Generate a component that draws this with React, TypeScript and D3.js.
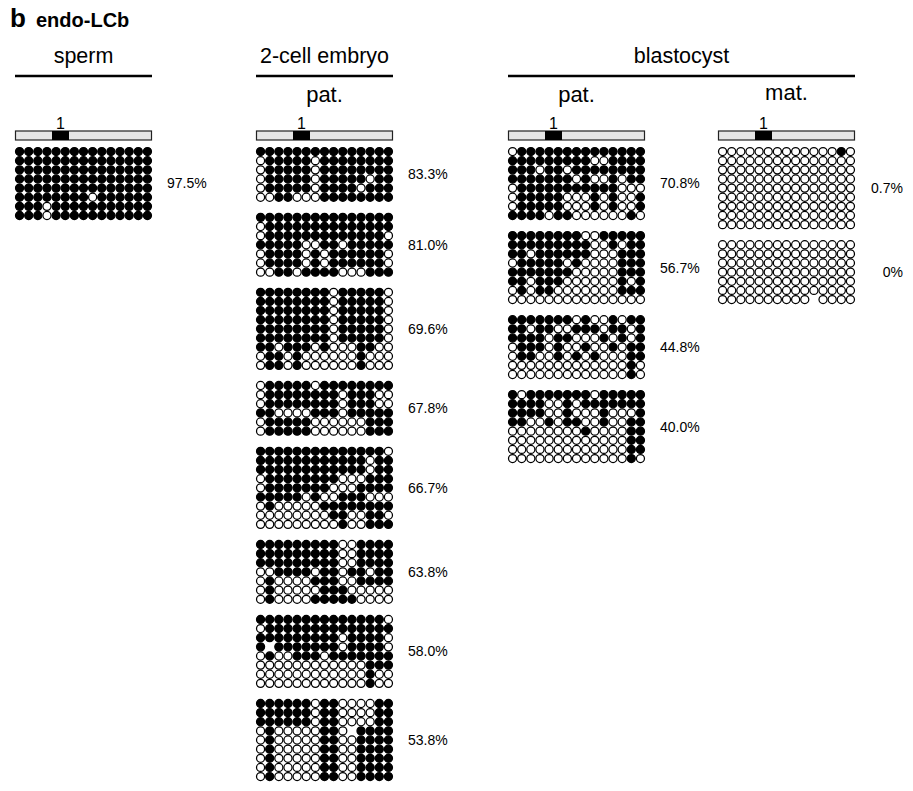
import React from 'react';
import * as d3 from 'd3';

// '1' = methylated (filled), '0' = unmethylated (open), '-' = no data
const spermBlocks: string[][] = [
  [
    '111111111111111',
    '111111111111111',
    '111111111111111',
    '111111111111111',
    '111111111111111',
    '111111110111111',
    '111011111111111',
    '111011111111111',
  ],
];
const spermLabels = ['97.5%'];

const twoCellPatBlocks: string[][] = [
  [
    '111111111111111',
    '011111011111111',
    '011111011111111',
    '011111011111011',
    '011111011110111',
    '001100011111111',
  ],
  [
    '111111111111111',
    '011111111111111',
    '011111111111110',
    '111110011011111',
    '011110101111110',
    '011110101111110',
    '001101111000111',
  ],
  [
    '111111110111110',
    '111111110111110',
    '111111110111110',
    '111111110111110',
    '111111110111110',
    '111111110111110',
    '110111010001100',
    '011010000001000',
    '011010000001000',
  ],
  [
    '011111011111111',
    '011111111011100',
    '011111111011100',
    '110000111011111',
    '011111000000111',
    '011111000000111',
  ],
  [
    '111111111111110',
    '111111111111011',
    '111111111111011',
    '011111111000111',
    '011111110001111',
    '111110100111000',
    '010000011111111',
    '000000001100110',
    '000000000100111',
  ],
  [
    '111111111001111',
    '111111111001111',
    '111111111001111',
    '001111011011011',
    '010000111001111',
    '010000011100000',
    '010000111110000',
  ],
  [
    '111111111111110',
    '011111111111111',
    '111111111011110',
    '1-1111111011110',
    '010011101111111',
    '000000000000111',
    '000000000000100',
    '000000000000100',
  ],
  [
    '111111011000011',
    '111111011000011',
    '111111011000011',
    '0100000110-1111',
    '010000011001111',
    '010000011001111',
    '010000011001111',
    '010000011001111',
    '010000011001111',
  ],
];
const twoCellPatLabels = ['83.3%', '81.0%', '69.6%', '67.8%', '66.7%', '63.8%', '58.0%', '53.8%'];

const blastPatBlocks: string[][] = [
  [
    '011111111111111',
    '111111111001111',
    '111011011111111',
    '111111101001011',
    '011111111111000',
    '011111000101001',
    '011111000101001',
    '111101100000010',
  ],
  [
    '111111110011111',
    '111111111001011',
    '110111111000111',
    '011111010000111',
    '111111100000111',
    '110111000000101',
    '010110000000111',
    '000000000000000',
  ],
  [
    '111111101001011',
    '110110011101101',
    '111101100010101',
    '011101001001011',
    '011001010100011',
    '000000000000010',
    '000000000000010',
  ],
  [
    '101111111011111',
    '111100101111111',
    '111100100010001',
    '110010110010011',
    '000000001000011',
    '000000000000011',
    '000000000000011',
    '000000000000010',
  ],
];
const blastPatLabels = ['70.8%', '56.7%', '44.8%', '40.0%'];

const blastMatBlocks: string[][] = [
  [
    '000000000000010',
    '000000000000000',
    '000000000000000',
    '000000000000000',
    '000000000000000',
    '000000000000000',
    '000000000000000',
    '000000000000000',
    '000000000000000',
  ],
  [
    '000000000000000',
    '000000000000000',
    '000000000000000',
    '000000000000000',
    '000000000000000',
    '000000000000000',
    '0000000000-0000',
  ],
];
const blastMatLabels = ['0.7%', '0%'];

const cpgSiteLabel = '1';

// ---- layout ----
const FONT = "'Liberation Sans', Arial, Helvetica, sans-serif";
const N_COLS = 15;
const BLOCK_W = 137;
const CELL = BLOCK_W / N_COLS;
const TOP = 147;
const GAP = 11;
const BAR_Y = 131;
const BAR_H = 9;

type Column = { blocks: string[][]; labels: string[]; x: number; labelEnd?: number };

const columns: Column[] = [
  { blocks: spermBlocks, labels: spermLabels, x: 15 },
  { blocks: twoCellPatBlocks, labels: twoCellPatLabels, x: 256 },
  { blocks: blastPatBlocks, labels: blastPatLabels, x: 508 },
  { blocks: blastMatBlocks, labels: blastMatLabels, x: 718, labelEnd: 903 },
];

function Block({ rows, x, y }: { rows: string[]; x: number; y: number }) {
  const xs = d3.scaleBand<number>().domain(d3.range(N_COLS)).range([x, x + BLOCK_W]);
  const ys = d3.scaleBand<number>().domain(d3.range(rows.length)).range([y, y + rows.length * CELL]);
  const sw = 1.25;
  const r = CELL / 2 - sw / 2 + 0.1;
  return (
    <g>
      {rows.map((row, ri) =>
        row.split('').map((c, ci) =>
          c === '-' ? null : (
            <circle
              key={`${ri}-${ci}`}
              cx={(xs(ci) as number) + xs.bandwidth() / 2}
              cy={(ys(ri) as number) + ys.bandwidth() / 2}
              r={r}
              fill={c === '1' ? '#000' : '#fff'}
              stroke="#000"
              strokeWidth={sw}
            />
          )
        )
      )}
    </g>
  );
}

function Column({ col }: { col: Column }) {
  let y = TOP;
  const items = col.blocks.map((rows, i) => {
    const top = y;
    const h = rows.length * CELL;
    y += h + GAP;
    const label = col.labels[i];
    return (
      <g key={i}>
        <Block rows={rows} x={col.x} y={top} />
        <text
          x={col.labelEnd !== undefined ? col.labelEnd : col.x + BLOCK_W + 15}
          y={top + h / 2}
          dy="0.35em"
          fontSize={14}
          fontFamily={FONT}
          textAnchor={col.labelEnd !== undefined ? 'end' : 'start'}
        >
          {label}
        </text>
      </g>
    );
  });
  const segX = col.x + 37;
  const segW = 17;
  return (
    <g>
      <text x={segX + segW / 2} y={BAR_Y - 2} fontSize={16} fontFamily={FONT} textAnchor="middle">
        {cpgSiteLabel}
      </text>
      <rect x={col.x + 0.5} y={BAR_Y} width={BLOCK_W - 1} height={BAR_H} fill="#e6e6e6" stroke="#222" strokeWidth={1.2} />
      <rect x={segX} y={BAR_Y} width={segW} height={BAR_H} fill="#000" />
      {items}
    </g>
  );
}

export default function App() {
  const c = columns;
  const center = (a: Column) => a.x + BLOCK_W / 2;
  return (
    <svg
      width={913}
      height={791}
      style={{ position: 'absolute', left: 0, top: 0, background: '#fff' }}
      fontFamily={FONT}
    >
      <rect width={913} height={791} fill="#fff" />
      <text x={10} y={27} fontSize={26} fontWeight="bold">b</text>
      <text x={36} y={27} fontSize={20} fontWeight="bold">endo-LCb</text>

      {/* group headers */}
      <text x={center(c[0])} y={63} fontSize={21.5} textAnchor="middle">sperm</text>
      <line x1={c[0].x} x2={c[0].x + BLOCK_W} y1={76} y2={76} stroke="#000" strokeWidth={2.5} />

      <text x={center(c[1])} y={63} fontSize={21.5} textAnchor="middle">2-cell embryo</text>
      <line x1={c[1].x} x2={c[1].x + BLOCK_W} y1={76} y2={76} stroke="#000" strokeWidth={2.5} />
      <text x={center(c[1])} y={102} fontSize={22} textAnchor="middle">pat.</text>

      <text x={(c[2].x + c[3].x + BLOCK_W) / 2} y={63} fontSize={21.5} textAnchor="middle">blastocyst</text>
      <line x1={c[2].x} x2={c[3].x + BLOCK_W} y1={76} y2={76} stroke="#000" strokeWidth={2.5} />
      <text x={center(c[2])} y={102} fontSize={22} textAnchor="middle">pat.</text>
      <text x={center(c[3])} y={100} fontSize={22} textAnchor="middle">mat.</text>

      {c.map((col, i) => (
        <Column key={i} col={col} />
      ))}
    </svg>
  );
}
